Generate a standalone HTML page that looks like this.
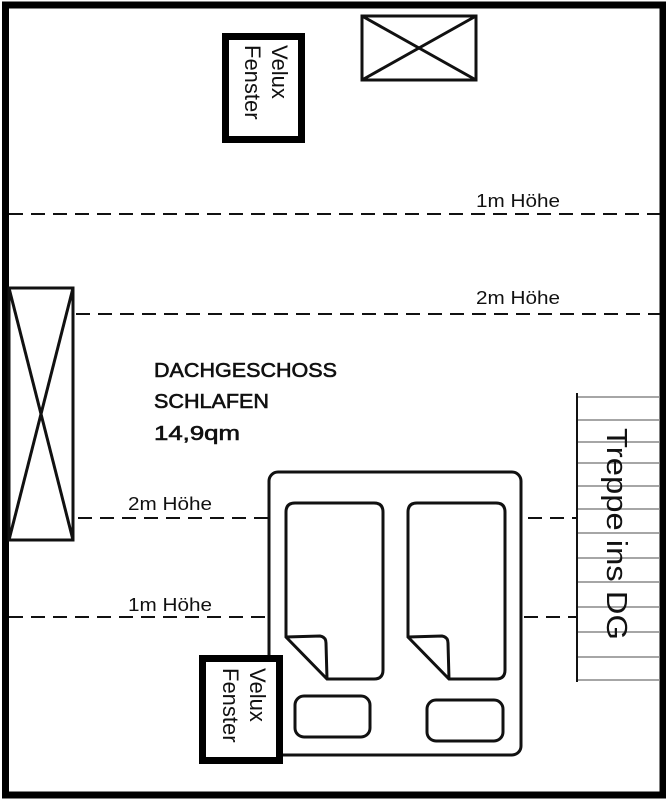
<!DOCTYPE html>
<html><head><meta charset="utf-8"><style>
html,body{margin:0;padding:0;background:#fff;width:666px;height:800px;overflow:hidden}
svg{display:block}
text{font-family:"Liberation Sans",sans-serif;fill:#111}
</style></head><body>
<svg width="666" height="800" viewBox="0 0 666 800" xmlns="http://www.w3.org/2000/svg">
<rect x="0" y="0" width="666" height="800" fill="#fff"/>
<rect x="5.5" y="5" width="657.5" height="790" fill="none" stroke="#000" stroke-width="7"/>
<g stroke="#111" stroke-width="2" stroke-dasharray="14,8" fill="none">
<line x1="9" y1="214" x2="660" y2="214"/>
<line x1="76" y1="314" x2="660" y2="314"/>
<line x1="78" y1="518" x2="268" y2="518"/>
<line x1="528" y1="518" x2="577" y2="518"/>
<line x1="9" y1="617" x2="268" y2="617"/>
<line x1="524" y1="617" x2="577" y2="617"/>
</g>
<text x="476" y="207" font-size="18" textLength="84" lengthAdjust="spacingAndGlyphs">1m Höhe</text>
<text x="476" y="304" font-size="18" textLength="84" lengthAdjust="spacingAndGlyphs">2m Höhe</text>
<text x="128" y="510" font-size="18" textLength="84" lengthAdjust="spacingAndGlyphs">2m Höhe</text>
<text x="128" y="611" font-size="18" textLength="84" lengthAdjust="spacingAndGlyphs">1m Höhe</text>
<g stroke="#111" stroke-width="0.6">
<text x="154" y="377" font-size="20" textLength="183" lengthAdjust="spacingAndGlyphs">DACHGESCHOSS</text>
<text x="154" y="408" font-size="20" textLength="115" lengthAdjust="spacingAndGlyphs">SCHLAFEN</text>
<text x="154" y="440" font-size="20" textLength="86" lengthAdjust="spacingAndGlyphs">14,9qm</text>
</g>
<g stroke="#111" stroke-width="3" fill="none">
<rect x="362" y="16" width="114" height="64"/>
<line x1="362" y1="16" x2="476" y2="80"/><line x1="476" y1="16" x2="362" y2="80"/>
</g>
<g stroke="#111" stroke-width="3" fill="none">
<rect x="9" y="288" width="64" height="252"/>
<line x1="9" y1="288" x2="73" y2="540"/><line x1="73" y1="288" x2="9" y2="540"/>
</g>
<rect x="225.5" y="36.5" width="76" height="103" fill="#fff" stroke="#000" stroke-width="7"/>
<text transform="translate(272,45) rotate(90)" font-size="22">Velux</text>
<text transform="translate(245,45) rotate(90)" font-size="22">Fenster</text>
<g stroke="#888" stroke-width="1.5">
<line x1="577" y1="397" x2="660" y2="397"/><line x1="577" y1="420" x2="660" y2="420"/>
<line x1="577" y1="442" x2="660" y2="442"/><line x1="577" y1="463" x2="660" y2="463"/>
<line x1="577" y1="486" x2="660" y2="486"/><line x1="577" y1="509" x2="660" y2="509"/>
<line x1="577" y1="533" x2="660" y2="533"/><line x1="577" y1="558" x2="660" y2="558"/>
<line x1="577" y1="582" x2="660" y2="582"/><line x1="577" y1="607" x2="660" y2="607"/>
<line x1="577" y1="632" x2="660" y2="632"/><line x1="577" y1="657" x2="660" y2="657"/>
<line x1="577" y1="680" x2="660" y2="680"/>
</g>
<line x1="577" y1="393" x2="577" y2="682" stroke="#111" stroke-width="2"/>
<text transform="translate(607,428) rotate(90)" font-size="29" textLength="212" lengthAdjust="spacingAndGlyphs">Treppe ins DG</text>
<g stroke="#111" stroke-width="3" fill="none">
<rect x="269" y="472" width="252" height="283" rx="9"/>
<path d="M295,503 H374 Q383,503 383,512 V670 Q383,679 374,679 H327 L286,637 V512 Q286,503 295,503 Z"/>
<path d="M286,637 L320,636 Q326,637 326,643 L327,679"/>
<path d="M417,503 H496 Q505,503 505,512 V670 Q505,679 496,679 H449 L408,637 V512 Q408,503 417,503 Z"/>
<path d="M408,637 L442,636 Q448,637 448,643 L449,679"/>
<rect x="295" y="696" width="75" height="41" rx="9"/>
<rect x="427" y="700" width="76" height="41" rx="9"/>
</g>
<rect x="202.5" y="658.5" width="77" height="102" fill="#fff" stroke="#000" stroke-width="7"/>
<text transform="translate(250,668) rotate(90)" font-size="22">Velux</text>
<text transform="translate(223,668) rotate(90)" font-size="22">Fenster</text>
</svg>
</body></html>
